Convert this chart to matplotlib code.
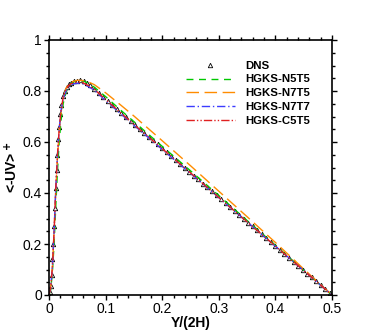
import matplotlib
matplotlib.use('Agg')
import matplotlib.pyplot as plt
from matplotlib.ticker import MultipleLocator, FormatStrFormatter

plt.rcParams['font.family'] = ['Liberation Sans', 'DejaVu Sans']

# DNS data (triangles)
y_dns = [0, 0.0015, 0.003, 0.0045, 0.006, 0.0075, 0.009, 0.0105, 0.012, 0.0135,
         0.015, 0.0165, 0.018, 0.02, 0.022, 0.025, 0.028, 0.031, 0.035, 0.039,
         0.044, 0.049, 0.055, 0.061, 0.067, 0.073,
         0.080, 0.088, 0.096, 0.104, 0.112, 0.120, 0.128, 0.136, 0.144, 0.152,
         0.160, 0.168, 0.176, 0.184, 0.192, 0.200, 0.208, 0.216, 0.224, 0.232,
         0.240, 0.248, 0.256, 0.264, 0.272, 0.280, 0.288, 0.296, 0.304, 0.312,
         0.320, 0.328, 0.336, 0.344, 0.352, 0.360, 0.368, 0.376, 0.384, 0.392,
         0.400, 0.408, 0.416, 0.424, 0.432, 0.440, 0.448, 0.456, 0.464, 0.472,
         0.480, 0.488, 0.496]
uv_dns = [0, 0.01, 0.035, 0.08, 0.14, 0.20, 0.27, 0.34, 0.42, 0.49,
          0.55, 0.61, 0.66, 0.71, 0.745, 0.78, 0.80, 0.815, 0.826, 0.833,
          0.838, 0.841, 0.842, 0.839, 0.832, 0.822,
          0.808, 0.791, 0.775, 0.760, 0.744, 0.729, 0.713, 0.698, 0.683, 0.667,
          0.652, 0.637, 0.621, 0.606, 0.591, 0.575, 0.560, 0.545, 0.529, 0.514,
          0.499, 0.483, 0.468, 0.453, 0.437, 0.422, 0.407, 0.391, 0.376, 0.361,
          0.345, 0.330, 0.315, 0.299, 0.284, 0.269, 0.253, 0.238, 0.223, 0.207,
          0.192, 0.176, 0.161, 0.146, 0.130, 0.115, 0.100, 0.084, 0.069, 0.054,
          0.038, 0.023, 0.008]

# HGKS results
y_sim = [0, 0.003, 0.006, 0.009, 0.012, 0.015, 0.018, 0.021, 0.025, 0.03, 0.035,
         0.04, 0.05, 0.06, 0.07, 0.08, 0.1, 0.125, 0.15, 0.2, 0.25, 0.3, 0.35,
         0.4, 0.45, 0.5]
uv_n5t5 = [0, 0.02, 0.09, 0.20, 0.35, 0.49, 0.60, 0.68, 0.75, 0.795, 0.82,
           0.832, 0.841, 0.840, 0.830, 0.815, 0.778, 0.728, 0.680, 0.583, 0.487,
           0.390, 0.292, 0.195, 0.097, 0]
uv_n7t5 = [0, 0.03, 0.11, 0.25, 0.41, 0.54, 0.64, 0.71, 0.77, 0.81, 0.828,
           0.836, 0.842, 0.841, 0.835, 0.825, 0.793, 0.748, 0.702, 0.605, 0.507,
           0.407, 0.307, 0.206, 0.102, 0]
uv_n7t7 = [0, 0.03, 0.11, 0.25, 0.42, 0.55, 0.65, 0.72, 0.77, 0.80, 0.818,
           0.826, 0.831, 0.828, 0.817, 0.803, 0.763, 0.714, 0.666, 0.571, 0.477,
           0.382, 0.287, 0.191, 0.096, 0]
uv_c5t5 = [0, 0.03, 0.11, 0.25, 0.42, 0.55, 0.65, 0.72, 0.775, 0.805, 0.822,
           0.830, 0.835, 0.832, 0.821, 0.807, 0.767, 0.718, 0.669, 0.574, 0.479,
           0.383, 0.287, 0.192, 0.096, 0]

fig = plt.figure(figsize=(3.74, 3.32), dpi=100)
ax = fig.add_axes([49 / 374, 37 / 332, 283 / 374, 255 / 332])

ax.plot(y_dns, uv_dns, linestyle='none', marker='^', markersize=3.2,
        markerfacecolor='white', markeredgecolor='black', markeredgewidth=0.6,
        label='DNS')
ax.plot(y_sim, uv_n5t5, color='#00c800', linestyle=(0, (5, 4)), lw=1.0, label='HGKS-N5T5')
ax.plot(y_sim, uv_n7t5, color='#ff8c00', linestyle=(0, (9, 4)), lw=1.0, label='HGKS-N7T5')
ax.plot(y_sim, uv_n7t7, color='#3c3cff', linestyle=(0, (6, 2, 1, 2)), lw=1.0, label='HGKS-N7T7')
ax.plot(y_sim, uv_c5t5, color='#e02020', linestyle=(0, (6, 1.5, 1, 1.5, 1, 1.5)), lw=1.0,
        label='HGKS-C5T5')

ax.set_xlim(0, 0.5)
ax.set_ylim(0, 1)
ax.xaxis.set_major_locator(MultipleLocator(0.1))
ax.xaxis.set_minor_locator(MultipleLocator(0.02))
ax.yaxis.set_major_locator(MultipleLocator(0.2))
ax.yaxis.set_minor_locator(MultipleLocator(0.05))
ax.xaxis.set_major_formatter(FormatStrFormatter('%g'))
ax.yaxis.set_major_formatter(FormatStrFormatter('%g'))
ax.tick_params(which='both', direction='out', top=True, right=True, width=1.0,
               labelsize=10, pad=1.5)
ax.tick_params(which='major', length=3.5)
ax.tick_params(which='minor', length=2)
for s in ax.spines.values():
    s.set_linewidth(1.2)

ax.set_xlabel('Y/(2H)', fontsize=10, fontweight='bold', labelpad=0)
ax.set_ylabel('<-UV>$^{\\bf +}$', fontsize=10, fontweight='bold', labelpad=2)

ax.legend(loc='upper right', bbox_to_anchor=(0.94, 0.937), frameon=False,
          prop={'weight': 'bold', 'size': 8.2}, handlelength=4.3, handletextpad=0.96,
          labelspacing=0.34, borderaxespad=0)

plt.savefig('out.png', dpi=100)
